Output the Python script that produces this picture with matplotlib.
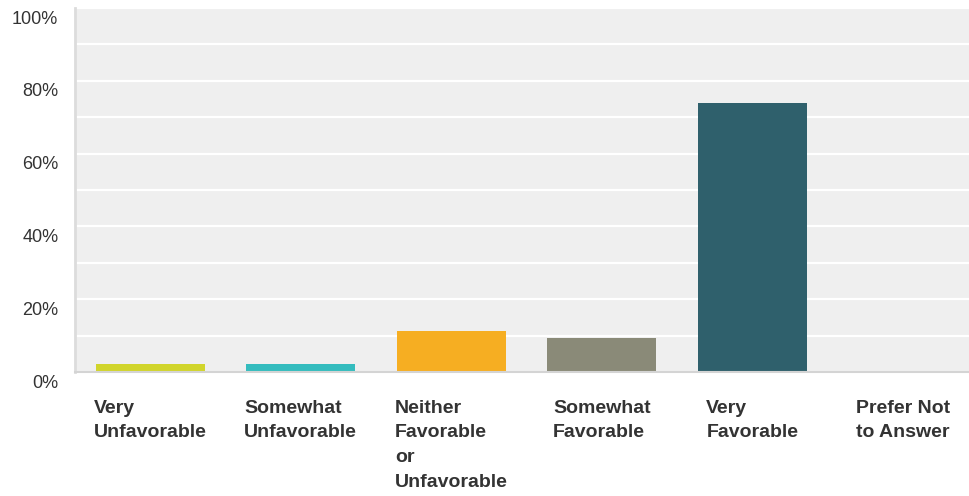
import matplotlib.pyplot as plt
from matplotlib.transforms import ScaledTranslation, blended_transform_factory

plt.rcParams['font.family'] = ['Liberation Sans', 'DejaVu Sans']

categories = ['Very\nUnfavorable', 'Somewhat\nUnfavorable', 'Neither\nFavorable\nor\nUnfavorable',
              'Somewhat\nFavorable', 'Very\nFavorable', 'Prefer Not\nto Answer']
values = [2.2, 2.2, 11.3, 9.3, 73.9, 0.0]
colors = ['#d1d52b', '#34bcbe', '#f6ae22', '#8a8a78', '#2f606c', '#888888']
yticks = [0, 20, 40, 60, 80, 100]

fig = plt.figure(figsize=(9.69, 4.96), dpi=100)
# the last category runs slightly past the right edge
ax = fig.add_axes([75 / 969, (496 - 372) / 496, 903 / 969, 364 / 496])
ax.set_facecolor('#efefef')

x = list(range(len(categories)))
ax.bar(x, values, width=0.725, color=colors, zorder=3)

ax.set_xlim(-0.5, len(categories) - 0.5)
ax.set_ylim(0, 100)

# grid every 10%, labels every 20%
ax.set_yticks(yticks)
ax.set_yticks(range(10, 100, 20), minor=True)
ax.set_yticklabels([f'{v}%' for v in yticks])
ax.grid(axis='y', which='both', color='white', linewidth=1.6, zorder=1)
ax.tick_params(axis='y', which='both', length=0, pad=12, labelsize=13, labelcolor='#333333')
ax.set_xticks([])

# labels sit a bit below their grid line
offset = ScaledTranslation(0, -6.5 / 72, fig.dpi_scale_trans)
for lab in ax.get_yticklabels():
    lab.set_transform(lab.get_transform() + offset)

for side in ['top', 'right']:
    ax.spines[side].set_visible(False)
ax.spines['left'].set_color('#dcdcdc')
ax.spines['left'].set_linewidth(2)
ax.spines['bottom'].set_color('#d4d4d4')
ax.spines['bottom'].set_linewidth(1.5)
ax.spines['left'].set_zorder(4)
ax.spines['bottom'].set_zorder(4)

# category names: block centred under the bar, lines left-aligned
trans = blended_transform_factory(ax.transData, ax.transAxes)
for i, cat in enumerate(categories):
    ax.text(i, -0.076, cat, transform=trans, ha='center', va='top', multialignment='left',
            fontsize=14, fontweight='bold', color='#333333', linespacing=1.6)

fig.savefig('out.png', dpi=100)
